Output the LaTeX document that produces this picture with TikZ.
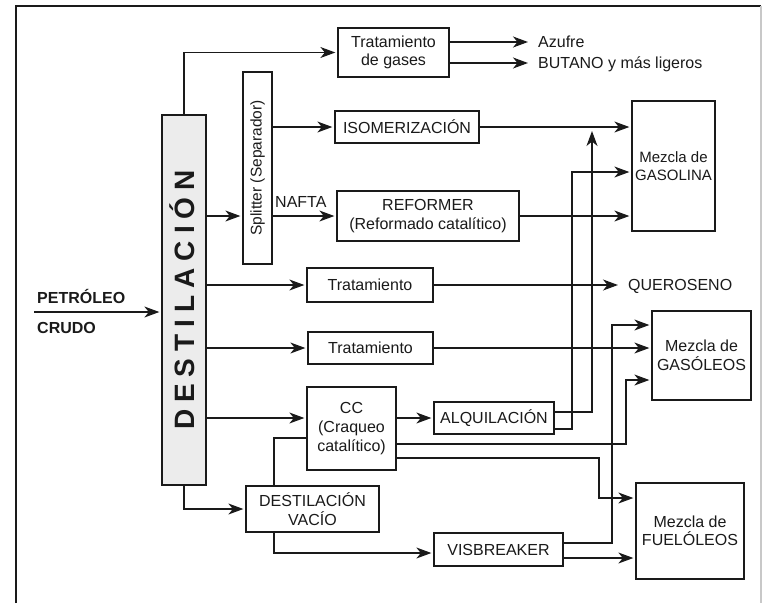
\documentclass[tikz,border=0pt]{standalone}
\usepackage{fontspec}
\setmainfont{Liberation Sans}
\usetikzlibrary{arrows.meta,positioning,calc}
\definecolor{PlantInk}{HTML}{1A1A1A}
\definecolor{ColumnFill}{HTML}{ECECEC}
\definecolor{FrameGray}{HTML}{C8C8C8}
\newcommand{\trk}{\kern7pt}

\begin{document}
\begin{tikzpicture}[
  x=1pt,y=-1pt,>=Stealth,
  every node/.style={font=\fontsize{16}{18.5}\selectfont,text=PlantInk},
  unit/.style={draw=PlantInk,line width=1.3pt,fill=white,inner sep=0pt,align=center},
  blend/.style={unit},
  product/.style={anchor=west,inner sep=0pt,text height=11.5pt,text depth=0pt},
  feed/.style={anchor=base west,inner sep=0pt,font=\fontsize{16}{18.5}\selectfont\bfseries},
  flow/.style={-{Stealth[length=15pt,width=11pt,inset=4.5pt]},draw=PlantInk,
    line width=1.3pt,shorten >=2pt},
  tolabel/.style={flow,shorten >=10pt},
  pipe/.style={draw=PlantInk,line width=1.3pt}
]
\useasboundingbox (0,0) rectangle (763,603);
% Page frame, open at the bottom as in the scanned figure.
\draw[PlantInk,line width=1.3pt] (16,603)--(16,6)--(761,6);
\draw[FrameGray,line width=1.3pt] (761,6)--(761,603);
% Crude column and splitter.
\node[unit,fill=ColumnFill,minimum width=44pt,minimum height=370pt] (dest) at (184,300) {};
\node[rotate=90,inner sep=0pt,text height=20pt,text depth=0pt,
  font=\fontsize{28}{30}\selectfont\bfseries] (destlbl) at (dest.center)
  {D\trk E\trk S\trk T\trk I\trk L\trk A\trk C\trk I\trk Ó\trk N};
\node[unit,minimum width=29pt,minimum height=192pt] (spl) at (257.5,168) {};
\node[rotate=90,inner sep=0pt,font=\fontsize{15.5}{18}\selectfont] (spllbl) at (spl.center)
  {Splitter (Separador)};
\node[feed] (petro) at (37,303) {PETRÓLEO};
\node[feed] (crudo) at (37,333) {CRUDO};
\coordinate (crudein) at (34,312);
% Process units.
\node[unit,minimum width=111pt,minimum height=49pt] (gases) at (393.5,52.5) {Tratamiento\\de gases};
\node[unit,minimum width=144pt,minimum height=32pt] (isom) at (407,127) {ISOMERIZACIÓN};
\node[unit,minimum width=182pt,minimum height=50pt] (reformer) at (428,216)
  {REFORMER\\(Reformado catalítico)};
\node[unit,minimum width=126pt,minimum height=34pt] (trat1) at (370,285) {Tratamiento};
\node[unit,minimum width=125pt,minimum height=32pt] (trat2) at (370.5,348) {Tratamiento};
\node[unit,minimum width=89pt,minimum height=83pt,font=\fontsize{16}{19}\selectfont] (cc)
  at (351.5,428.5) {CC\\(Craqueo\\catalítico)};
\node[unit,minimum width=120pt,minimum height=32pt] (alq) at (494,418) {ALQUILACIÓN};
\node[unit,minimum width=133pt,minimum height=46pt] (vacio) at (312.5,509) {DESTILACIÓN\\VACÍO};
\node[unit,minimum width=129pt,minimum height=33pt] (visb) at (498.5,549.5) {VISBREAKER};
% Blending pools and plain products.
\node[blend,minimum width=83pt,minimum height=130pt,font=\fontsize{15}{18.5}\selectfont] (gasolina)
  at (673.5,166) {Mezcla de\\GASOLINA};
\node[blend,minimum width=99pt,minimum height=89pt] (gasoleos) at (701.5,355.5) {Mezcla de\\GASÓLEOS};
\node[blend,minimum width=108pt,minimum height=96pt] (fuel) at (690,531) {Mezcla de\\FUELÓLEOS};
\node[product] (azufre) at (538,42) {Azufre};
\node[product] (butano) at (538,63) {BUTANO y más ligeros};
\node[product] (kero) at (628,285) {QUEROSENO};
\node[product,anchor=south west] (nafta) at (275,208) {NAFTA};
% Bus lines where streams climb to the pools.
\coordinate (isoin) at (592,129);
\coordinate (gasin) at (572,172);
\coordinate (fuelin) at (599,498);
\coordinate (visin) at (612,325);
\coordinate (gsoin) at (626,380);
\coordinate (vislow) at ([yshift=-8.5pt]visb.east);
% Column draws.
\draw[flow] (crudein) -- (dest.west |- crudein);
\draw[flow] (dest.north) |- (gases.west);
\draw[tolabel] (gases.east |- azufre) -- (azufre.west);
\draw[tolabel] (gases.east |- butano) -- (butano.west);
\draw[flow] (dest.east |- reformer) -- (spl.west |- reformer);
\draw[flow] (spl.east |- isom) -- (isom.west);
\draw[flow] (spl.east |- reformer) -- (reformer.west);
\draw[flow] (isom.east) -- (gasolina.west |- isom);
\draw[flow] (reformer.east) -- (gasolina.west |- reformer);
\draw[flow] (dest.east |- trat1) -- (trat1.west);
\draw[tolabel] (trat1.east) -- (kero.west);
\draw[flow] (dest.east |- trat2) -- (trat2.west);
\draw[flow] (trat2.east) -- (gasoleos.west |- trat2);
\draw[flow] (dest.east |- alq) -- (cc.west |- alq);
\draw[flow] (dest.south) |- (vacio.west);
% Conversion units.
\draw[flow] (cc.east |- alq) -- (alq.west);
\draw[flow] ([yshift=6pt]alq.east) -| (isoin);
\draw[flow] ([yshift=-11pt]alq.east) -| (gasin) -- (gasolina.west |- gasin);
\draw[flow] ([yshift=-15.5pt]cc.east) -| (gsoin) -- (gasoleos.west |- gsoin);
\draw[flow] ([yshift=-29.5pt]cc.east) -| (fuelin) -- (fuel.west |- fuelin);
\draw[pipe] ([xshift=-38.5pt]vacio.north) |- ([yshift=-9.5pt]cc.west);
\draw[flow] ([xshift=-38.5pt]vacio.south) |- ([yshift=-3.5pt]visb.west);
\draw[flow] ([yshift=6.5pt]visb.east) -| (visin) -- (gasoleos.west |- visin);
\draw[flow] (vislow) -- (vislow -| fuel.west);
\end{tikzpicture}
\end{document}
